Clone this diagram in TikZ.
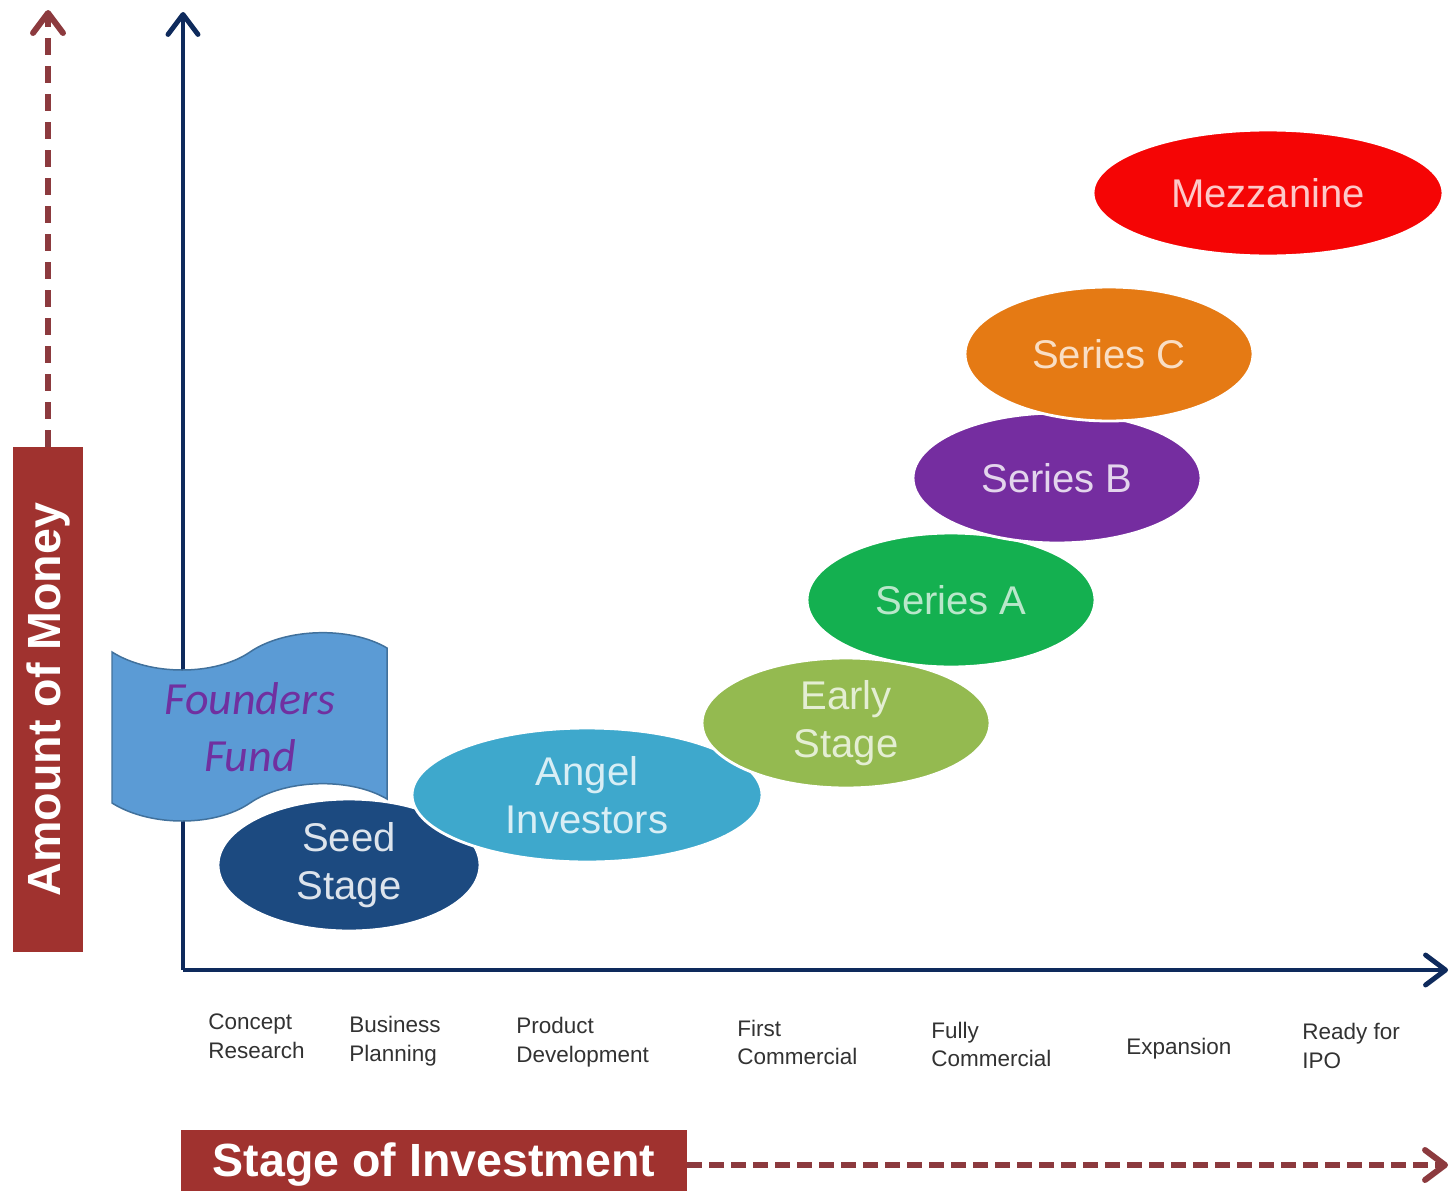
\documentclass[tikz,border=0pt]{standalone}
\usepackage{fontspec}
\setmainfont{Liberation Sans}
\newfontfamily\calibri{Carlito}
\usetikzlibrary{shapes.geometric, arrows.meta, positioning}
\definecolor{money-red}{RGB}{160,50,47}
\definecolor{dash-red}{RGB}{140,58,62}
\definecolor{axis-blue}{RGB}{14,42,92}
\definecolor{mezz-red}{RGB}{245,5,5}
\definecolor{c-orange}{RGB}{229,122,20}
\definecolor{b-purple}{RGB}{117,45,160}
\definecolor{a-green}{RGB}{20,176,80}
\definecolor{early-green}{RGB}{148,186,80}
\definecolor{angel-blue}{RGB}{62,168,204}
\definecolor{seed-blue}{RGB}{28,74,128}
\definecolor{fund-fill}{RGB}{91,155,213}
\definecolor{fund-line}{RGB}{65,113,156}
\definecolor{fund-text}{RGB}{112,48,160}
\definecolor{label-gray}{RGB}{50,50,50}

\begin{document}
\begin{tikzpicture}[x=0.02cm, y=-0.02cm,
  round/.style={ellipse, draw=white, line width=1.6pt, inner sep=0pt, align=center, font=\fontsize{22.8}{27.5}\selectfont},
  banner/.style={fill=money-red, text=white, inner sep=0pt, font=\fontsize{26.5}{30}\selectfont\bfseries},
  axis/.style={draw=axis-blue, line width=2.8pt, -{Straight Barb[round, length=0.4cm, width=0.6cm]}},
  trend/.style={draw=dash-red, line width=3.4pt, -{Straight Barb[round, length=0.4cm, width=0.6cm]}},
  phase/.style={anchor=west, align=left, inner sep=0pt, text=label-gray, font=\fontsize{12.8}{16.4}\selectfont},
]
  \useasboundingbox (0,0) rectangle (1453,1190);

  % Axes
  \coordinate (origin) at (183,970);
  \coordinate (ytop) at (183,12);
  \coordinate (xend) at (1448,970);
  \draw[axis] (origin) -- (ytop);
  \draw[axis] (origin) -- (xend);

  % Axis banners
  \node[banner, rotate=90, minimum width=10.1cm, minimum height=1.4cm] (money) at (48,699.5) {Amount of Money};
  \coordinate (moneytop) at (48,10);
  \draw[trend, dash pattern=on 0.34cm off 0.22cm] (money.east) -- (moneytop);

  \node[banner, minimum width=10.12cm, minimum height=1.4cm] (invest) at (434,1165) {Stage of Investment};
  \coordinate (investend) at (1448,1165);
  \draw[trend, dash pattern=on 0.3cm off 0.14cm] (invest.east) -- (investend);

  % Stages along the x axis
  \node[phase] (concept) at (208,1036.5) {Concept\\Research};
  \node[phase] (business) at (349,1041.5) {Business\\Planning};
  \node[phase] (product) at (516,1042.5) {Product\\Development};
  \node[phase] (first) at (737,1042.5) {First\\Commercial};
  \node[phase] (fully) at (931,1044.5) {Fully\\Commercial};
  \node[phase] (expansion) at (1126,1049) {Expansion};
  \node[phase] (ipo) at (1302,1046) {Ready for\\IPO};

  % Funding rounds
  \node[round, fill=seed-blue, text=white!85!seed-blue, minimum width=5.24cm, minimum height=2.64cm] (seed) at (349,865) {\raisebox{-4pt}{Seed}\\\raisebox{-4pt}{Stage}};
  \node[round, fill=angel-blue, text=white!80!angel-blue, minimum width=7cm, minimum height=2.68cm] (angel) at (587,795) {Angel\\Investors};
  \node[round, fill=early-green, text=white!75!early-green, minimum width=5.76cm, minimum height=2.6cm] (early) at (846,723) {\raisebox{-5pt}{Early}\\\raisebox{-5pt}{Stage}};
  \node[round, fill=a-green, text=white!70!a-green, minimum width=5.76cm, minimum height=2.68cm] (seriesa) at (951,600) {Series A};
  \node[round, fill=b-purple, text=white!80!b-purple, minimum width=5.76cm, minimum height=2.6cm] (seriesb) at (1057,478) {Series B};
  \node[round, fill=c-orange, text=white!75!c-orange, minimum width=5.76cm, minimum height=2.68cm] (seriesc) at (1109,354) {Series C};
  \node[round, fill=mezz-red, text=white!78!mezz-red, minimum width=7cm, minimum height=2.52cm] (mezz) at (1268,193) {Mezzanine};

  % Founders fund banner
  \draw[fill=fund-fill, draw=fund-line, line width=0.85pt]
    (112,652) .. controls (150,676) and (215,676) .. (250,652)
    .. controls (285,628) and (350,626) .. (387,648) -- (387,799)
    .. controls (350,777) and (285,779) .. (250,803)
    .. controls (215,827) and (150,827) .. (112,803) -- cycle;
  \node[align=center, text=fund-text, font=\calibri\itshape\fontsize{26.2}{32.4}\selectfont] (founders) at (250,727) {Founders\\Fund};
\end{tikzpicture}
\end{document}
